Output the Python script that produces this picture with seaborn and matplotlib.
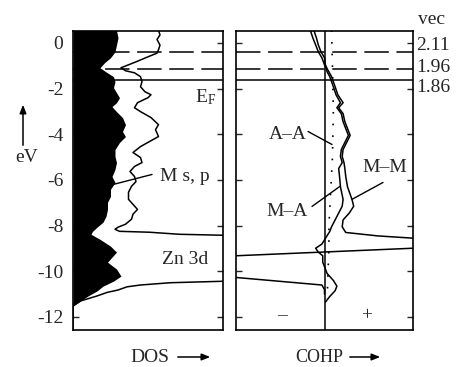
import numpy as np
import pandas as pd
import matplotlib
matplotlib.use("Agg")
import matplotlib.pyplot as plt
import seaborn as sns

# ---- data (energy in eV) ----
# black filled DOS (M s,p)
e_fill = [0.55, 0.22, -0.09, -0.39, -0.65, -0.87, -1.09, -1.27, -1.48, -1.70, -1.96,
          -2.18, -2.40, -2.62, -2.79, -3.01, -3.27, -3.58, -3.88, -4.10, -4.36, -4.67,
          -4.97, -5.24, -5.54, -5.85, -6.11, -6.41, -6.72, -6.98, -7.29, -7.59, -7.85,
          -8.07, -8.25, -8.38, -8.60, -8.90, -9.16, -9.38, -9.60, -9.90, -10.21, -10.43,
          -10.65, -10.86, -11.08, -11.30, -11.52, -12.6]
dos_fill = [0.29, 0.30, 0.29, 0.28, 0.25, 0.21, 0.18, 0.22, 0.27, 0.28, 0.27,
            0.29, 0.31, 0.29, 0.26, 0.29, 0.33, 0.35, 0.33, 0.35, 0.31, 0.28,
            0.28, 0.29, 0.28, 0.26, 0.28, 0.25, 0.25, 0.23, 0.23, 0.22, 0.20,
            0.16, 0.13, 0.12, 0.18, 0.25, 0.29, 0.26, 0.23, 0.29, 0.32, 0.27,
            0.20, 0.16, 0.10, 0.05, 0.0, 0.0]

# total DOS outline
e_tot = [0.55, 0.35, 0.15, -0.10, -0.30, -0.45, -0.61, -0.83, -0.96, -1.09, -1.22,
         -1.31, -1.48, -1.70, -1.92, -2.14, -2.27, -2.40, -2.62, -2.84, -3.01, -3.27,
         -3.58, -3.80, -4.10, -4.32, -4.54, -4.80, -5.02, -5.24, -5.41, -5.63, -5.85,
         -6.07, -6.28, -6.54, -6.85, -7.07, -7.29, -7.50, -7.72, -7.94, -8.07, -8.16,
         -8.25, -8.29, -8.38, -8.45, -10.40, -10.50, -10.60, -10.68, -10.82, -10.92,
         -11.08, -11.18, -11.30, -11.52, -12.6]
dos_tot = [0.57, 0.58, 0.56, 0.58, 0.57, 0.56, 0.50, 0.42, 0.37, 0.32, 0.35,
           0.41, 0.45, 0.46, 0.45, 0.48, 0.52, 0.50, 0.43, 0.41, 0.45, 0.52,
           0.57, 0.55, 0.57, 0.51, 0.45, 0.40, 0.45, 0.46, 0.41, 0.38, 0.41,
           0.42, 0.39, 0.37, 0.37, 0.40, 0.43, 0.40, 0.39, 0.35, 0.30, 0.28,
           0.31, 0.51, 0.71, 1.20, 1.20, 0.65, 0.45, 0.36, 0.30, 0.23,
           0.16, 0.11, 0.05, 0.0, 0.0]

# COHP curves
e_mm = [0.55, 0.20, -0.09, -0.39, -0.65, -0.96, -1.13, -1.27, -1.48, -1.70, -1.92,
        -2.27, -2.62, -2.84, -3.10, -3.45, -3.75, -4.05, -4.36, -4.67, -4.97, -5.24,
        -5.50, -5.85, -6.30, -6.85, -7.15, -7.45, -7.75, -8.05, -8.30, -8.45, -8.55,
        -8.70, -8.85, -8.99, -9.32, -9.60, -10.00, -10.27, -10.60, -10.80, -11.00]
cohp_mm = [-0.12, -0.09, -0.07, -0.04, 0.0, 0.01, 0.03, 0.05, 0.08, 0.10, 0.12,
           0.15, 0.21, 0.16, 0.21, 0.23, 0.26, 0.29, 0.25, 0.21, 0.20, 0.22,
           0.23, 0.24, 0.26, 0.31, 0.33, 0.28, 0.21, 0.20, 0.24, 0.60, 1.0,
           1.5, 1.5, 1.0, -1.0, -1.5, -1.5, -1.0, -0.03, 0.0, 0.0]

e_ma = [0.55, 0.20, -0.09, -0.39, -0.65, -0.96, -1.13, -1.27, -1.48, -1.70, -1.92,
        -2.27, -2.62, -2.84, -3.10, -3.45, -3.75, -4.05, -4.36, -4.67, -4.97, -5.24,
        -5.50, -5.85, -6.30, -6.85, -7.15, -7.45, -7.75, -8.05, -8.25, -8.50, -8.81,
        -8.99, -9.16, -9.32, -9.60, -10.10, -10.40, -10.65, -10.85, -11.10, -11.35]
cohp_ma = [-0.16, -0.13, -0.10, -0.07, -0.03, 0.0, 0.02, 0.03, 0.06, 0.08, 0.10,
           0.13, 0.18, 0.14, 0.19, 0.21, 0.24, 0.27, 0.23, 0.19, 0.18, 0.20,
           0.16, 0.17, 0.18, 0.21, 0.20, 0.16, 0.12, 0.08, 0.06, 0.02, -0.03,
           -0.10, -0.07, -0.02, -0.02, 0.03, 0.10, 0.14, 0.12, 0.06, 0.01]

e_aa = [0.55, -1.0, -3.0, -5.0, -6.5, -8.0, -9.0, -10.0, -11.2]
cohp_aa = [0.08, 0.09, 0.10, 0.09, 0.07, 0.05, 0.05, 0.04, 0.03]

# Fermi levels for different valence electron counts
vec_labels = ["2.11", "1.96", "1.86"]
vec_levels = [-0.38, -1.15, -1.64]

sns.set_style("ticks")
plt.rcParams['font.family'] = ['Liberation Serif', 'DejaVu Serif']
plt.rcParams['mathtext.fontset'] = 'custom'
plt.rcParams['mathtext.rm'] = 'Liberation Serif'
plt.rcParams['axes.unicode_minus'] = False
FS = 14

fig = plt.figure(figsize=(4.58, 3.67), dpi=100)
W, H = 458, 367
ax1 = fig.add_axes([73 / W, 1 - 330 / H, 150 / W, 299 / H])
ax2 = fig.add_axes([236 / W, 1 - 330 / H, 177 / W, 299 / H])

# ---- DOS panel ----
df_tot = pd.DataFrame({'dos': dos_tot, 'E': e_tot})
sns.lineplot(data=df_tot, x='dos', y='E', sort=False, estimator=None,
             color='black', linewidth=1.1, ax=ax1, zorder=2)
ax1.fill_betweenx(e_fill, 0, dos_fill, color='black', linewidth=0, zorder=3)

# ---- COHP panel ----
df_mm = pd.DataFrame({'c': cohp_mm, 'E': e_mm})
df_ma = pd.DataFrame({'c': cohp_ma, 'E': e_ma})
df_aa = pd.DataFrame({'c': cohp_aa, 'E': e_aa})
sns.lineplot(data=df_mm, x='c', y='E', sort=False, estimator=None,
             color='black', linewidth=1.1, ax=ax2)
sns.lineplot(data=df_ma, x='c', y='E', sort=False, estimator=None,
             color='black', linewidth=1.1, ax=ax2)
sns.lineplot(data=df_aa, x='c', y='E', sort=False, estimator=None,
             color='black', linewidth=1.2, linestyle=(0, (1, 6)), ax=ax2)
ax2.axvline(0, color='black', linewidth=1.1, zorder=1)

for ax in (ax1, ax2):
    for lab, lev in zip(vec_labels, vec_levels):
        if lab == "1.86":
            ax.axhline(lev, color='black', linewidth=1.1, zorder=1)
        else:
            ax.axhline(lev, color='black', linewidth=1.1, dashes=(16, 5), zorder=1)
    ax.set_ylim(-12.57, 0.52)
    ax.set_yticks(np.arange(-12, 1, 2))
    ax.set_xticks([])
    ax.set_xlabel('')
    ax.set_ylabel('')
    ax.tick_params(axis='y', direction='in', length=4, width=1.0,
                   left=True, right=True, labelsize=FS, pad=7)
    for sp in ax.spines.values():
        sp.set_linewidth(1.2)
        sp.set_color('black')

ax1.set_xlim(0, 1)
ax2.set_xlim(-1.0, 1.0)
ax2.tick_params(axis='y', labelleft=False)
ax1.set_yticklabels([str(v) for v in range(-12, 1, 2)])

# labels in the DOS panel
ax1.text(0.813, -2.36, r'$\mathrm{E_F}$', fontsize=FS, va='center', ha='left')
ax1.text(0.58, -5.85, 'M s, p', fontsize=FS, va='center', ha='left')
ax1.plot([0.527, 0.267], [-5.76, -6.2], color='black', linewidth=1.0, zorder=4)
ax1.text(0.593, -9.47, 'Zn 3d', fontsize=FS, va='center', ha='left')

# labels in the COHP panel
ax2.text(-0.198, -4.01, 'A\u2013A', fontsize=FS, va='center', ha='right')
ax2.plot([-0.186, 0.085], [-3.88, -4.45], color='black', linewidth=1.0)
ax2.text(0.424, -5.45, 'M\u2013M', fontsize=FS, va='center', ha='left')
ax2.plot([0.661, 0.311], [-6.11, -6.85], color='black', linewidth=1.0)
ax2.text(-0.186, -7.37, 'M\u2013A', fontsize=FS, va='center', ha='right')
ax2.plot([-0.141, 0.175], [-7.16, -6.28], color='black', linewidth=1.0)
ax2.text(-0.48, -11.95, '\u2013', fontsize=FS, va='center', ha='center')
ax2.text(0.48, -11.95, '+', fontsize=FS, va='center', ha='center')

# vec column on the right
fig.text(418 / W, 1 - 20 / H, 'vec', fontsize=FS, va='center', ha='left')
for lab, py in zip(vec_labels, [45, 68, 88]):
    fig.text(416 / W, 1 - py / H, lab, fontsize=FS, va='center', ha='left')

# eV with arrow
fig.text(27 / W, 1 - 157 / H, 'eV', fontsize=FS, va='center', ha='center')
fig.add_artist(matplotlib.patches.FancyArrowPatch(
    (23 / W, 1 - 148 / H), (23 / W, 1 - 102 / H), transform=fig.transFigure,
    arrowstyle='-|>,head_length=5,head_width=2', color='black', linewidth=1.1))

# bottom captions
fig.text(130 / W, 1 - 357 / H, 'DOS', fontsize=FS, va='center', ha='left')
fig.add_artist(matplotlib.patches.FancyArrowPatch(
    (175 / W, 1 - 357 / H), (213 / W, 1 - 357 / H), transform=fig.transFigure,
    arrowstyle='-|>,head_length=5,head_width=2', color='black', linewidth=1.1))
fig.text(295 / W, 1 - 357 / H, 'COHP', fontsize=13, va='center', ha='left')
fig.add_artist(matplotlib.patches.FancyArrowPatch(
    (347 / W, 1 - 357 / H), (383 / W, 1 - 357 / H), transform=fig.transFigure,
    arrowstyle='-|>,head_length=5,head_width=2', color='black', linewidth=1.1))

fig.savefig('out.png', dpi=100)
